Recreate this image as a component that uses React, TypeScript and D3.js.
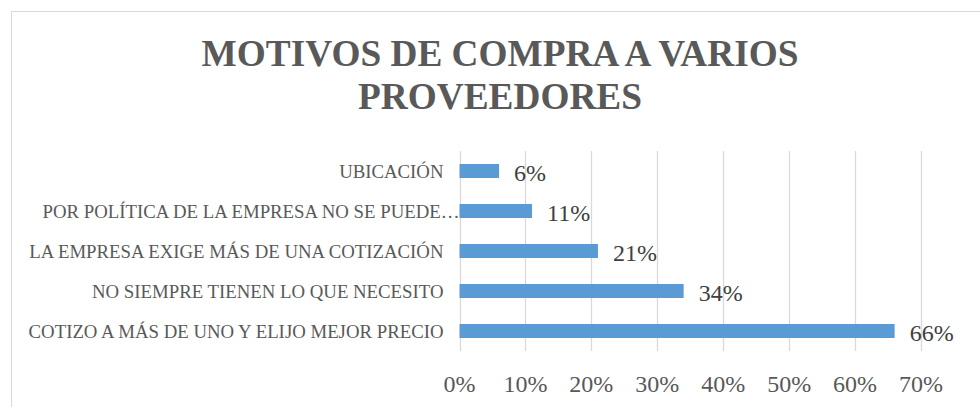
import React, { useEffect, useRef } from "react";
import * as d3 from "d3";

// categories listed top to bottom, as in the picture
const categories = [
  "UBICACIÓN",
  "POR POLÍTICA DE LA EMPRESA NO SE PUEDE…",
  "LA EMPRESA EXIGE MÁS DE UNA COTIZACIÓN",
  "NO SIEMPRE TIENEN LO QUE NECESITO",
  "COTIZO A MÁS DE UNO Y ELIJO MEJOR PRECIO",
];
const values = [0.06, 0.11, 0.21, 0.34, 0.66];
const ticks = [0, 0.1, 0.2, 0.3, 0.4, 0.5, 0.6, 0.7];
const titleLines = ["MOTIVOS DE COMPRA A VARIOS", "PROVEEDORES"];

const App = () => {
  const ref = useRef<SVGSVGElement>(null);

  useEffect(() => {
    const svg = d3.select(ref.current);
    svg.selectAll("*").remove();
    const serif = "'Liberation Serif', 'Times New Roman', serif";

    // chart frame (cut off on the right and bottom)
    svg
      .append("rect")
      .attr("x", 11.5)
      .attr("y", 11.5)
      .attr("width", 1000)
      .attr("height", 500)
      .attr("fill", "white")
      .attr("stroke", "#d9d9d9");

    svg
      .append("g")
      .selectAll("text")
      .data(titleLines)
      .join("text")
      .text((d) => d)
      .attr("x", 500)
      .attr("y", (d, i) => 65.5 + i * 43.5)
      .attr("text-anchor", "middle")
      .attr("font-family", serif)
      .attr("font-weight", "bold")
      .attr("font-size", "37.3px")
      .attr("fill", "#595959");

    const x = d3.scaleLinear().domain([0, 0.7]).range([459.5, 921]);
    const y = d3
      .scaleBand()
      .domain(categories)
      .range([151, 351])
      .paddingInner(0.65)
      .paddingOuter(0.325);

    // gridlines
    svg
      .append("g")
      .selectAll("line")
      .data(ticks)
      .join("line")
      .attr("x1", (d) => Math.round(x(d)) + 0.5)
      .attr("x2", (d) => Math.round(x(d)) + 0.5)
      .attr("y1", 151)
      .attr("y2", 351)
      .attr("stroke", "#d9d9d9")
      .attr("stroke-width", 1.3);

    // tick labels
    svg
      .append("g")
      .selectAll("text")
      .data(ticks)
      .join("text")
      .text((d) => d3.format(".0%")(d))
      .attr("x", (d) => x(d))
      .attr("y", 392)
      .attr("text-anchor", "middle")
      .attr("font-family", serif)
      .attr("font-size", "24px")
      .attr("fill", "#595959");

    // bars
    svg
      .append("g")
      .selectAll("rect")
      .data(values)
      .join("rect")
      .attr("x", x(0))
      .attr("y", (d, i) => y(categories[i]))
      .attr("width", (d) => x(d) - x(0))
      .attr("height", y.bandwidth())
      .attr("fill", "#5b9bd5");

    // value labels
    svg
      .append("g")
      .selectAll("text")
      .data(values)
      .join("text")
      .text((d) => d3.format(".0%")(d))
      .attr("x", (d) => x(d) + 15)
      .attr("y", (d, i) => y(categories[i]) + y.bandwidth() / 2 + 10)
      .attr("font-family", serif)
      .attr("font-size", "24px")
      .attr("fill", "#404040");

    // category labels (the truncated one runs up to the axis, like in Excel)
    svg
      .append("g")
      .selectAll("text")
      .data(categories)
      .join("text")
      .text((d) => d)
      .attr("x", (d) => (d.endsWith("…") ? x(0) : x(0) - 16))
      .attr("y", (d) => y(d) + y.bandwidth() / 2 + 6.5)
      .attr("text-anchor", "end")
      .attr("font-family", serif)
      .attr("font-size", "18.8px")
      .attr("fill", "#595959");
  });

  return (
    <svg
      ref={ref}
      width={980}
      height={407}
      style={{ position: "absolute", left: 0, top: 0, background: "white" }}
    ></svg>
  );
};

export default App;
